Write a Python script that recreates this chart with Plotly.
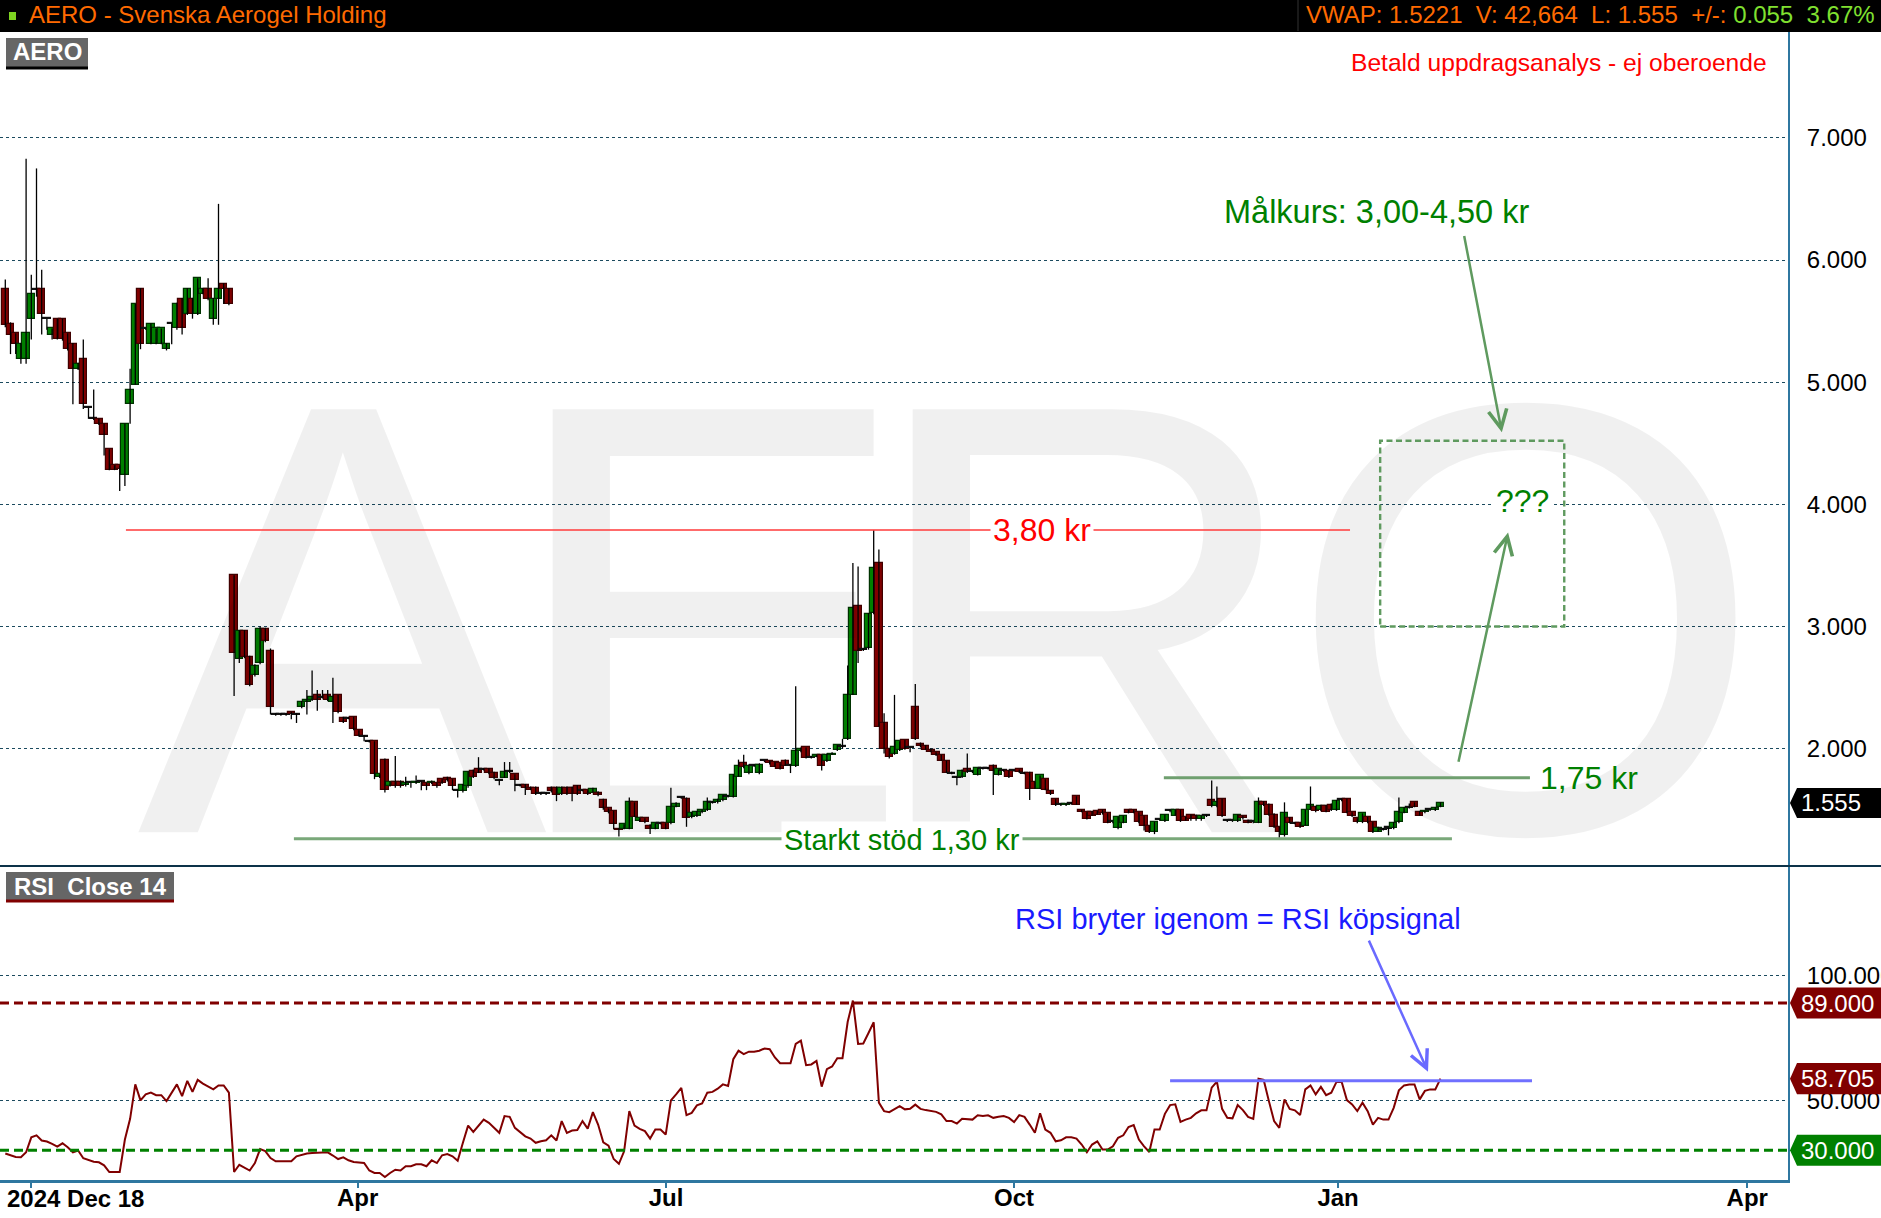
import plotly.graph_objects as go

# ---------------- data ----------------
opens = [
 5.76,5.48,5.40,5.19,5.19,5.52,5.76,5.76,5.52,5.39,
 5.52,5.52,5.40,5.31,5.11,5.19,4.79,4.70,4.70,4.66,
 4.45,4.32,4.32,4.24,4.82,4.98,5.76,5.44,5.31,5.31,
 5.31,5.27,5.48,5.44,5.68,5.56,5.68,5.56,5.72,5.76,
 5.52,5.68,5.80,5.76,3.42,2.73,2.96,2.75,2.60,2.70,
 2.98,2.80,2.28,2.28,2.28,2.30,2.28,2.34,2.38,2.40,
 2.44,2.42,2.44,2.38,2.44,2.25,2.25,2.26,2.15,2.10,
 2.06,2.06,1.77,1.91,1.69,1.73,1.73,1.70,1.72,1.72,
 1.73,1.72,1.72,1.72,1.75,1.76,1.75,1.66,1.65,1.69,
 1.82,1.83,1.83,1.83,1.80,1.74,1.76,1.81,1.79,1.70,
 1.70,1.68,1.68,1.63,1.63,1.68,1.68,1.63,1.68,1.68,
 1.69,1.66,1.66,1.64,1.64,1.58,1.51,1.49,1.34,1.34,
 1.34,1.56,1.41,1.43,1.37,1.34,1.39,1.39,1.39,1.52,
 1.60,1.59,1.44,1.45,1.48,1.50,1.56,1.56,1.58,1.61,
 1.60,1.77,1.88,1.80,1.86,1.80,1.90,1.90,1.89,1.88,
 1.90,1.86,1.86,1.98,2.01,1.93,1.93,1.95,1.90,1.95,
 1.99,2.02,2.08,2.44,3.17,2.81,2.82,3.11,3.52,2.21,
 2.00,1.96,1.99,2.07,2.01,2.34,2.04,2.02,1.99,1.97,
 1.95,1.90,1.80,1.76,1.77,1.83,1.81,1.78,1.84,1.84,
 1.86,1.78,1.82,1.82,1.82,1.83,1.80,1.80,1.73,1.67,
 1.75,1.65,1.59,1.54,1.54,1.55,1.61,1.50,1.48,1.48,
 1.49,1.50,1.47,1.40,1.35,1.39,1.50,1.50,1.48,1.45,
 1.37,1.32,1.42,1.41,1.49,1.45,1.50,1.44,1.46,1.45,
 1.42,1.45,1.58,1.53,1.59,1.41,1.41,1.41,1.45,1.41,
 1.40,1.39,1.56,1.54,1.46,1.36,1.29,1.43,1.39,1.39,
 1.37,1.50,1.52,1.50,1.53,1.54,1.50,1.58,1.59,1.48,
 1.43,1.40,1.44,1.40,1.32,1.34,1.35,1.35,1.40,1.47,
 1.52,1.56,1.48,1.48,1.50,1.50,1.52]
highs = [
 5.84,5.49,5.40,5.32,6.83,5.88,6.75,5.92,5.52,5.44,
 5.52,5.52,5.40,5.32,5.16,5.35,4.79,4.94,4.70,4.66,
 4.45,4.32,4.32,4.66,5.11,5.64,5.77,5.44,5.48,5.44,
 5.44,5.32,5.48,5.65,5.69,5.77,5.69,5.85,5.77,5.85,
 5.69,6.46,5.81,5.77,3.42,2.97,2.97,2.76,2.69,3.00,
 2.99,2.82,2.29,2.29,2.29,2.30,2.29,2.39,2.48,2.64,
 2.48,2.48,2.48,2.58,2.44,2.26,2.26,2.26,2.15,2.11,
 2.07,2.06,1.79,1.92,1.73,1.94,1.74,1.77,1.72,1.78,
 1.73,1.72,1.74,1.72,1.75,1.77,1.75,1.66,1.71,1.81,
 1.83,1.93,1.84,1.84,1.81,1.75,1.89,1.89,1.79,1.71,
 1.71,1.69,1.69,1.64,1.64,1.69,1.69,1.69,1.69,1.69,
 1.70,1.66,1.66,1.68,1.65,1.59,1.51,1.49,1.35,1.38,
 1.60,1.56,1.43,1.43,1.38,1.39,1.39,1.39,1.68,1.56,
 1.60,1.60,1.48,1.49,1.50,1.60,1.57,1.59,1.62,1.62,
 1.79,1.91,1.95,1.87,1.87,1.88,1.90,1.90,1.89,1.88,
 1.91,1.87,2.51,2.01,2.01,1.94,1.95,1.95,1.96,1.97,
 2.03,2.08,2.68,3.52,3.49,2.82,3.11,3.79,3.63,2.29,
 2.00,2.44,2.06,2.07,2.01,2.53,2.05,2.03,2.00,1.97,
 1.95,1.90,1.81,1.77,1.83,1.96,1.82,1.84,1.84,1.85,
 1.87,1.83,1.83,1.82,1.82,1.83,1.81,1.81,1.73,1.78,
 1.75,1.66,1.59,1.55,1.55,1.56,1.61,1.50,1.48,1.49,
 1.49,1.50,1.47,1.40,1.44,1.45,1.50,1.50,1.48,1.45,
 1.37,1.40,1.42,1.46,1.50,1.50,1.50,1.44,1.46,1.46,
 1.45,1.46,1.74,1.69,1.59,1.41,1.41,1.46,1.45,1.42,
 1.40,1.60,1.57,1.55,1.47,1.36,1.56,1.44,1.40,1.39,
 1.50,1.69,1.53,1.54,1.54,1.55,1.58,1.59,1.59,1.48,
 1.43,1.47,1.44,1.40,1.36,1.35,1.35,1.40,1.60,1.52,
 1.55,1.56,1.49,1.49,1.50,1.52,1.56]
lows = [
 5.45,5.23,5.23,5.15,5.15,5.35,5.70,5.39,5.43,5.35,
 5.35,5.34,5.26,4.82,5.10,4.78,4.70,4.69,4.65,4.40,
 4.28,4.28,4.11,4.15,4.66,4.98,5.27,5.43,5.31,5.31,
 5.31,5.26,5.31,5.43,5.39,5.55,5.52,5.55,5.72,5.67,
 5.47,5.47,5.64,5.63,2.43,2.70,2.74,2.51,2.59,2.69,
 2.87,2.28,2.27,2.27,2.27,2.24,2.21,2.33,2.28,2.39,
 2.31,2.41,2.39,2.21,2.29,2.21,2.24,2.15,2.10,2.06,
 2.05,1.75,1.76,1.64,1.69,1.68,1.68,1.69,1.68,1.71,
 1.66,1.66,1.71,1.68,1.71,1.73,1.66,1.60,1.64,1.68,
 1.76,1.80,1.82,1.79,1.75,1.70,1.76,1.80,1.65,1.69,
 1.62,1.66,1.62,1.62,1.62,1.64,1.57,1.62,1.62,1.57,
 1.62,1.65,1.62,1.64,1.61,1.50,1.47,1.34,1.28,1.34,
 1.34,1.44,1.40,1.39,1.30,1.34,1.38,1.34,1.38,1.52,
 1.59,1.36,1.43,1.44,1.47,1.49,1.55,1.55,1.57,1.60,
 1.60,1.77,1.84,1.79,1.85,1.79,1.89,1.87,1.85,1.83,
 1.86,1.80,1.85,1.97,1.92,1.92,1.93,1.82,1.89,1.95,
 1.98,2.00,2.07,2.44,2.70,2.80,2.81,3.10,2.18,1.96,
 1.92,1.95,1.98,1.99,1.97,2.07,2.01,1.99,1.97,1.94,
 1.90,1.80,1.79,1.70,1.76,1.80,1.80,1.78,1.83,1.83,
 1.62,1.78,1.81,1.76,1.81,1.80,1.79,1.58,1.67,1.67,
 1.66,1.62,1.53,1.53,1.53,1.54,1.54,1.48,1.42,1.45,
 1.46,1.46,1.39,1.39,1.34,1.39,1.47,1.47,1.39,1.33,
 1.31,1.30,1.41,1.40,1.48,1.45,1.40,1.41,1.41,1.41,
 1.41,1.44,1.52,1.52,1.44,1.40,1.40,1.40,1.42,1.39,
 1.39,1.39,1.53,1.45,1.35,1.27,1.28,1.39,1.38,1.35,
 1.37,1.50,1.48,1.49,1.48,1.49,1.49,1.57,1.47,1.44,
 1.39,1.39,1.39,1.31,1.32,1.33,1.29,1.34,1.39,1.47,
 1.51,1.52,1.45,1.47,1.49,1.49,1.52]
closes = [
 5.47,5.39,5.31,5.31,5.40,5.72,5.76,5.56,5.52,5.44,
 5.35,5.35,5.27,5.11,5.15,4.82,4.79,4.70,4.66,4.57,
 4.28,4.28,4.29,4.66,4.94,5.64,5.31,5.44,5.48,5.44,
 5.44,5.31,5.48,5.64,5.44,5.76,5.56,5.85,5.76,5.68,
 5.68,5.76,5.76,5.64,2.78,2.96,2.75,2.52,2.68,2.98,
 2.88,2.34,2.28,2.28,2.28,2.28,2.28,2.38,2.40,2.42,
 2.40,2.42,2.40,2.42,2.30,2.22,2.25,2.16,2.10,2.10,
 2.06,1.79,1.79,1.66,1.73,1.69,1.69,1.72,1.72,1.73,
 1.73,1.69,1.73,1.69,1.72,1.74,1.69,1.66,1.70,1.81,
 1.77,1.80,1.83,1.80,1.76,1.74,1.81,1.81,1.74,1.70,
 1.68,1.66,1.63,1.63,1.63,1.65,1.62,1.68,1.63,1.63,
 1.63,1.66,1.63,1.67,1.62,1.51,1.48,1.38,1.33,1.38,
 1.56,1.44,1.43,1.40,1.34,1.39,1.39,1.34,1.52,1.55,
 1.60,1.43,1.47,1.48,1.50,1.56,1.56,1.58,1.62,1.61,
 1.78,1.86,1.85,1.86,1.86,1.87,1.90,1.88,1.85,1.83,
 1.86,1.86,1.98,2.00,1.92,1.93,1.95,1.86,1.95,1.96,
 2.03,2.02,2.44,3.15,2.80,2.81,3.10,3.48,2.18,2.00,
 1.93,2.01,2.06,2.00,2.01,2.08,2.02,1.99,1.97,1.95,
 1.90,1.80,1.80,1.76,1.82,1.81,1.81,1.84,1.84,1.84,
 1.82,1.83,1.82,1.77,1.82,1.81,1.80,1.67,1.67,1.78,
 1.66,1.63,1.54,1.54,1.55,1.55,1.54,1.48,1.42,1.45,
 1.46,1.47,1.39,1.40,1.44,1.45,1.47,1.47,1.40,1.37,
 1.32,1.40,1.42,1.46,1.49,1.50,1.41,1.41,1.42,1.42,
 1.45,1.45,1.53,1.56,1.45,1.41,1.41,1.46,1.43,1.39,
 1.40,1.56,1.54,1.46,1.36,1.32,1.47,1.39,1.39,1.36,
 1.50,1.54,1.49,1.53,1.48,1.50,1.57,1.58,1.47,1.45,
 1.40,1.47,1.40,1.32,1.35,1.34,1.35,1.39,1.48,1.51,
 1.52,1.52,1.45,1.49,1.50,1.51,1.555]
rsi = [
 28.7,28.1,27.3,27.2,29.2,35.2,36.0,33.9,33.5,32.6,
 31.5,32.8,31.2,29.2,29.9,26.8,26.2,25.4,25.2,24.0,
 21.3,21.3,21.3,34.3,42.6,56.4,50.0,52.4,53.1,52.1,
 52.1,49.7,53.1,56.4,51.7,57.8,53.4,58.2,56.7,55.4,
 54.4,56.0,56.0,53.1,21.3,24.2,22.9,21.9,24.9,30.5,
 29.7,26.9,25.6,25.6,25.6,25.6,27.6,28.3,28.7,28.9,
 28.9,28.9,29.2,27.9,26.5,27.2,26.0,25.3,25.2,24.9,
 21.9,20.9,20.9,19.3,20.9,22.2,21.9,23.6,23.6,24.4,
 24.4,23.6,26.0,24.9,28.0,28.5,27.6,25.8,33.0,39.9,
 37.4,39.9,42.3,41.0,39.0,37.0,43.7,43.4,39.0,37.2,
 35.6,34.7,33.0,33.6,34.0,36.0,33.9,41.7,37.0,37.9,
 38.1,41.7,38.7,45.3,40.3,33.2,31.9,26.5,24.6,29.6,
 45.7,39.9,38.6,37.7,34.7,38.3,38.3,36.3,50.0,52.4,
 55.0,44.1,45.0,48.0,48.8,53.1,53.4,54.7,56.4,55.8,
 66.5,69.9,68.5,69.5,69.5,69.9,70.8,70.5,67.2,64.9,
 64.9,64.9,72.6,73.9,64.1,64.4,65.8,55.5,62.5,63.6,
 66.9,66.9,81.5,90.0,72.6,72.8,77.0,81.3,49.1,45.7,
 45.3,46.4,47.7,46.4,46.6,48.3,46.6,46.1,45.7,45.4,
 44.4,41.7,41.7,40.7,42.6,42.3,42.3,44.0,43.7,44.0,
 43.0,43.4,43.7,43.0,41.3,44.1,43.4,40.3,37.0,44.8,
 38.3,37.0,33.6,34.0,35.2,35.2,34.7,32.3,29.2,32.3,
 33.6,30.3,30.3,31.6,35.0,36.0,39.3,40.1,34.3,31.6,
 29.3,38.3,38.3,44.6,48.1,48.4,41.4,42.3,43.0,44.8,
 46.0,46.0,55.1,57.5,46.6,43.0,42.8,48.1,46.1,43.4,
 42.6,58.7,58.2,49.7,41.7,39.0,50.4,46.6,46.0,44.1,
 54.4,56.0,52.4,55.4,52.1,53.1,57.4,57.4,50.1,48.4,
 45.7,49.1,45.7,40.3,43.0,42.3,42.3,47.0,54.0,56.0,
 56.4,56.4,50.4,53.8,54.4,54.4,58.7]

price_ticks = [2, 3, 4, 5, 6, 7]
rsi_ticks = [50, 100]
month_labels = ["", "Apr", "Jul", "Oct", "Jan", "Apr"]
month_pos = [5.0, 67.75, 127.06, 194.0, 256.3, 335.0]

watermark_letters = ["A", "E", "R", "O"]

last_price = 1.555
rsi_last = 58.705
rsi_upper = 89
rsi_lower = 30

# ---------------- styling / geometry ----------------
FONT = "Liberation Sans, Arial, sans-serif"
AXIS_C = "#2f77a0"
GRID_C = "#1b4a5e"
GREEN_TXT = "#008000"
DRAW_GREEN = "#5f9a5f"
UP_FILL, UP_LINE = "#008000", "#003300"
DN_FILL, DN_LINE = "#800000", "#400000"

PLOT_R, PLOT_T, PLOT_B, SPLIT = 1788.0, 32.0, 1180.0, 866.0
PH = PLOT_B - PLOT_T


def px(x):
    return x / PLOT_R


def py(y):
    return (PLOT_B - y) / PH


split_frac = py(SPLIT)

n = len(closes)
idx = list(range(n))

base, height, fills, outlines = [], [], [], []
for o, c in zip(opens, closes):
    lo, hi = min(o, c), max(o, c)
    if hi - lo < 0.009:
        mid = (lo + hi) / 2
        base.append(mid - 0.0045)
        height.append(0.009)
    else:
        base.append(lo)
        height.append(hi - lo)
    if c > o:
        fills.append(UP_FILL); outlines.append(UP_LINE)
    elif c < o:
        fills.append(DN_FILL); outlines.append(DN_LINE)
    else:
        fills.append("#111111"); outlines.append("#111111")

wx, wy = [], []
for i, (h, l) in enumerate(zip(highs, lows)):
    wx += [i, i, None]
    wy += [l, h, None]

fig = go.Figure()

# watermark letters (semi-transparent so gridlines stay visible)
fig.add_trace(go.Scatter(
    x=[64.8, 135.0, 207.5, 292.4], y=[2.574] * 4, mode="text",
    text=watermark_letters,
    textfont=dict(family=FONT, size=615, color="rgba(0,0,0,0.057)"),
    hoverinfo="skip", xaxis="x", yaxis="y", cliponaxis=True))

fig.add_trace(go.Scatter(
    x=wx, y=wy, mode="lines", line=dict(color="#000000", width=1.3),
    hoverinfo="skip", xaxis="x", yaxis="y"))

fig.add_trace(go.Bar(
    x=idx, y=height, base=base, width=1.42,
    marker=dict(color=fills, line=dict(color=outlines, width=1.2)),
    hoverinfo="skip", xaxis="x", yaxis="y"))

fig.add_trace(go.Scatter(
    x=list(range(len(rsi))), y=rsi, mode="lines",
    line=dict(color="#800000", width=2), hoverinfo="skip",
    xaxis="x2", yaxis="y2"))

shapes = []
# header bar
shapes.append(dict(type="rect", xref="paper", yref="paper", x0=0, x1=px(1881),
                   y0=py(32), y1=py(0), fillcolor="#000000", line=dict(width=0), layer="above"))
shapes.append(dict(type="rect", xref="paper", yref="paper", x0=px(9), x1=px(16),
                   y0=py(20), y1=py(12), fillcolor="#7ed321", line=dict(width=0), layer="above"))
shapes.append(dict(type="line", xref="paper", yref="paper", x0=px(1298), x1=px(1298),
                   y0=py(31), y1=py(0), line=dict(color="#333333", width=1), layer="above"))
# name boxes
shapes.append(dict(type="rect", xref="paper", yref="paper", x0=px(6), x1=px(88),
                   y0=py(67), y1=py(38), fillcolor="#666666", line=dict(width=0), layer="above"))
shapes.append(dict(type="line", xref="paper", yref="paper", x0=px(6), x1=px(88),
                   y0=py(68), y1=py(68), line=dict(color="#000000", width=3), layer="above"))
shapes.append(dict(type="rect", xref="paper", yref="paper", x0=px(6), x1=px(174),
                   y0=py(900), y1=py(872), fillcolor="#666666", line=dict(width=0), layer="above"))
shapes.append(dict(type="line", xref="paper", yref="paper", x0=px(6), x1=px(174),
                   y0=py(901), y1=py(901), line=dict(color="#800000", width=3), layer="above"))
# panel separator
shapes.append(dict(type="line", xref="paper", yref="paper", x0=0, x1=px(1881),
                   y0=split_frac, y1=split_frac, line=dict(color="#0d3349", width=2), layer="above"))

# price drawings
shapes.append(dict(type="line", xref="x", yref="y", x0=23.2, x1=258.6, y0=3.79, y1=3.79,
                   line=dict(color="rgba(255,70,70,0.8)", width=2.2)))
shapes.append(dict(type="line", xref="x", yref="y", x0=222.8, x1=293.2, y0=1.762, y1=1.762,
                   line=dict(color="#6f9f6f", width=3)))
shapes.append(dict(type="line", xref="x", yref="y", x0=55.5, x1=278.2, y0=1.262, y1=1.262,
                   line=dict(color="#7aa87a", width=3)))
shapes.append(dict(type="rect", xref="x", yref="y", x0=264.4, x1=299.8, y0=3.0, y1=4.52,
                   line=dict(color=DRAW_GREEN, width=2.4, dash="6px,3.5px"),
                   fillcolor="rgba(0,0,0,0)"))

# RSI drawings
shapes.append(dict(type="line", xref="paper", yref="y2", x0=0, x1=1, y0=rsi_upper, y1=rsi_upper,
                   line=dict(color="#800000", width=3, dash="9px,5px")))
shapes.append(dict(type="line", xref="paper", yref="y2", x0=0, x1=1, y0=rsi_lower, y1=rsi_lower,
                   line=dict(color="#008000", width=3, dash="9px,5px")))
shapes.append(dict(type="line", xref="x2", yref="y2", x0=224.0, x1=293.6, y0=57.9, y1=57.9,
                   line=dict(color="#7070ff", width=3)))


def tag(yref, v, half, color):
    a, b, e = px(1790), px(1797), px(1881)
    path = (f"M {a},{v} L {b},{v + half} L {e},{v + half} "
            f"L {e},{v - half} L {b},{v - half} Z")
    return dict(type="path", xref="paper", yref=yref, path=path,
                fillcolor=color, line=dict(width=0), layer="above")


shapes.append(tag("y", last_price, 15 / 122.15, "#000000"))
shapes.append(tag("y2", rsi_upper, 15.5 / 2.488, "#800000"))
shapes.append(tag("y2", rsi_last, 15.5 / 2.488, "#800000"))
shapes.append(tag("y2", rsi_lower, 15.5 / 2.488, "#008000"))

ann = []


def txt(x, y, text, size, color, xanchor="center", xref="paper", yref="paper",
        bg=None, family=FONT):
    d = dict(x=x, y=y, xref=xref, yref=yref, text=text, showarrow=False,
             xanchor=xanchor, yanchor="middle",
             font=dict(family=family, size=size, color=color))
    if bg:
        d["bgcolor"] = bg
        d["borderpad"] = 2
    ann.append(d)


txt(px(27), py(15), "AERO - Svenska Aerogel Holding", 24, "#ff6a00", "left")
txt(px(1877), py(15),
    "VWAP: 1.5221\u00a0\u00a0V: 42,664\u00a0\u00a0L: 1.555\u00a0\u00a0+/-: "
    "<span style='color:#80e030'>0.055\u00a0\u00a03.67%</span>", 24, "#ff6a00", "right")
txt(px(47), py(52), "<b>AERO</b>", 24, "#ffffff")
txt(px(90), py(886), "<b>RSI\u00a0\u00a0Close 14</b>", 24, "#ffffff")
txt(px(1769), py(62), "Betald uppdragsanalys - ej oberoende", 24.6, "#ff0000", "right")

txt(263.6, 6.39, "Målkurs: 3,00-4,50 kr", 32.5, GREEN_TXT, xref="x", yref="y")
txt(291.7, 4.03, "???", 32, GREEN_TXT, xref="x", yref="y", bg="#ffffff")
txt(199.4, 3.79, "3,80 kr", 32, "#ff0000", xref="x", yref="y", bg="#ffffff")
txt(294.8, 1.759, "1,75 kr", 32, GREEN_TXT, "left", xref="x", yref="y")
txt(172.4, 1.255, "Starkt stöd 1,30 kr", 29, GREEN_TXT, xref="x", yref="y", bg="#ffffff")
txt(237.1, 122.6, "RSI bryter igenom = RSI köpsignal", 29, "#1a1aff", xref="x2", yref="y2")

txt(px(1799), last_price, "1.555", 24, "#ffffff", "left", yref="y")
txt(px(1799), rsi_upper, "89.000", 24, "#ffffff", "left", yref="y2")
txt(px(1799), rsi_last, "58.705", 24, "#ffffff", "left", yref="y2")
txt(px(1799), rsi_lower, "30.000", 24, "#ffffff", "left", yref="y2")
txt(px(5), py(1198), "<b>2024 Dec 18</b>", 24, "#000000", "left")


def arrow(x, y, ax, ay, xref, yref, color, width, size):
    ann.append(dict(x=x, y=y, ax=ax, ay=ay, xref=xref, yref=yref, axref=xref, ayref=yref,
                    text="", showarrow=True, arrowhead=5, arrowsize=size,
                    arrowwidth=width, arrowcolor=color))


arrow(287.8, 4.59, 280.5, 6.21, "x", "y", DRAW_GREEN, 2.5, 1.45)
arrow(289.0, 3.77, 279.4, 1.88, "x", "y", DRAW_GREEN, 2.5, 1.45)
arrow(273.6, 61.5, 262.1, 114.6, "x2", "y2", "#6a6aff", 2.5, 1.4)

xr = [-1.02, 342.83]
fig.update_layout(
    width=1881, height=1218, autosize=False,
    margin=dict(l=0, r=93, t=32, b=38, autoexpand=False),
    paper_bgcolor="#ffffff", plot_bgcolor="#ffffff",
    showlegend=False, barmode="overlay", bargap=0,
    font=dict(family=FONT, size=24, color="#000000"),
    xaxis=dict(domain=[0, 1], range=xr, anchor="y", showgrid=False, zeroline=False,
               showticklabels=False, showline=False, fixedrange=True, automargin=False),
    yaxis=dict(domain=[split_frac, 1], range=[1.039, 7.867], anchor="x", side="right",
               tickmode="array", tickvals=price_ticks,
               ticktext=[f"{v:.3f}" for v in price_ticks],
               showgrid=True, gridcolor=GRID_C, griddash="dot", gridwidth=1,
               zeroline=False, showline=True, linecolor=AXIS_C, linewidth=2,
               ticks="", ticklabelstandoff=12, automargin=False,
               tickfont=dict(family=FONT, size=24, color="#000000"), fixedrange=True),
    xaxis2=dict(domain=[0, 1], range=xr, anchor="y2", showgrid=False, zeroline=False,
                tickmode="array", tickvals=month_pos, ticktext=month_labels,
                ticks="outside", ticklen=5, tickwidth=2, tickcolor=AXIS_C,
                ticklabelstandoff=-11, automargin=False,
                showline=True, linecolor=AXIS_C, linewidth=3,
                tickfont=dict(family=FONT, size=24, color="#000000", weight="bold"),
                fixedrange=True),
    yaxis2=dict(domain=[0, split_frac], range=[18.1, 143.9], anchor="x2", side="right",
                tickmode="array", tickvals=rsi_ticks,
                ticktext=[f"{v:.3f}" for v in rsi_ticks],
                showgrid=True, gridcolor=GRID_C, griddash="dot", gridwidth=1,
                zeroline=False, showline=True, linecolor=AXIS_C, linewidth=2,
                ticks="", ticklabelstandoff=12, automargin=False,
                tickfont=dict(family=FONT, size=24, color="#000000"), fixedrange=True),
    shapes=shapes,
    annotations=ann,
)

post = ("document.documentElement.style.margin='0';"
        "document.documentElement.style.overflow='hidden';"
        "document.body.style.margin='0';document.body.style.padding='0';"
        "document.body.style.overflow='hidden';"
        "var d=document.getElementById('{plot_id}');"
        "d.style.position='absolute';d.style.left='0px';d.style.top='0px';")

fig.write_html("out.html", include_plotlyjs=True, config={"displayModeBar": False},
               post_script=post)
